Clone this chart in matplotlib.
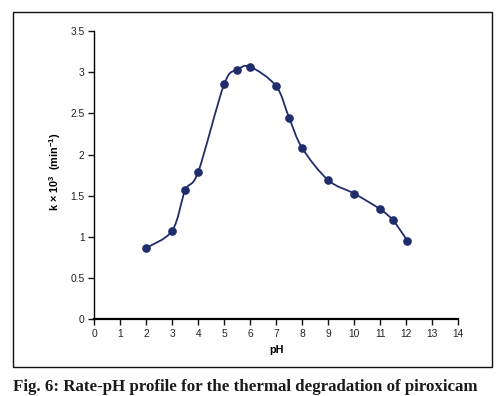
import numpy as np
import matplotlib
matplotlib.use("Agg")
import matplotlib.pyplot as plt
from matplotlib.path import Path
from matplotlib.patches import PathPatch, Rectangle

plt.rcParams["mathtext.fontset"] = "custom"
plt.rcParams["mathtext.rm"] = "Liberation Sans:bold"
plt.rcParams["mathtext.it"] = "Liberation Sans:bold"
plt.rcParams["mathtext.bf"] = "Liberation Sans:bold"
plt.rcParams["mathtext.default"] = "rm"

ph = [2.0, 3.0, 3.5, 4.0, 5.0, 5.5, 6.0, 7.0, 7.5, 8.0, 9.0, 10.0, 11.0, 11.5, 12.05]
k = [0.866, 1.077, 1.567, 1.79, 2.855, 3.025, 3.066, 2.83, 2.446, 2.08, 1.69, 1.527, 1.337, 1.20, 0.956]
xticks = list(range(0, 15))
yticks = [0, 0.5, 1, 1.5, 2, 2.5, 3, 3.5]
ytick_labels = ["0", "0.5", "1", "1.5", "2", "2.5", "3", "3.5"]

color = "#1f2d6b"

fig = plt.figure(figsize=(5.0, 3.96), dpi=100)
ax = fig.add_axes([0.1886, 0.1937, 0.7274, 0.728])

# smooth curve (Catmull-Rom as cubic Bezier segments)
pts = np.column_stack([ph, k])
verts = [tuple(pts[0])]
codes = [Path.MOVETO]
n = len(pts)
for i in range(n - 1):
    p0 = pts[i - 1] if i > 0 else pts[i]
    p1 = pts[i]
    p2 = pts[i + 1]
    p3 = pts[i + 2] if i + 2 < n else pts[i + 1]
    c1 = p1 + (p2 - p0) / 6.0
    c2 = p2 - (p3 - p1) / 6.0
    verts += [tuple(c1), tuple(c2), tuple(p2)]
    codes += [Path.CURVE4] * 3
ax.add_patch(PathPatch(Path(verts, codes), facecolor="none", edgecolor=color, lw=1.3, zorder=2))
ax.plot(ph, k, linestyle="none", marker="o", ms=5.2, color=color, zorder=3)

ax.set_xlim(0, 14)
ax.set_ylim(0, 3.5)
ax.set_xticks(xticks)
ax.set_xticklabels([str(t) for t in xticks])
ax.set_yticks(yticks)
ax.set_yticklabels(ytick_labels)
for s in ["top", "right"]:
    ax.spines[s].set_visible(False)
ax.spines["left"].set_linewidth(1.0)
ax.spines["bottom"].set_linewidth(1.6)
ax.tick_params(axis="both", direction="out", length=4, width=1.0, labelsize=7.4,
               colors="#111111", pad=3)
for lab in ax.get_xticklabels() + ax.get_yticklabels():
    lab.set_family("Liberation Sans")
    lab.set_color("#222222")

ax.set_xlabel("pH", fontsize=7.8, fontweight="bold", family="Liberation Sans", labelpad=4)
fig.text(0.111, 0.565, r"k × 10$^{3}$  (min$^{-1}$)", rotation=90, ha="center", va="center",
         fontsize=7.8, fontweight="bold", family="Liberation Sans")

# outer frame
fig.patches.append(Rectangle((13.3 / 500, 1 - 366.7 / 396), (492 - 13.3) / 500, (366.7 - 11.5) / 396,
                             transform=fig.transFigure, fill=False, edgecolor="#111111", lw=1.0))

fig.text(13 / 500, 1 - 391 / 396, "Fig. 6: Rate-pH profile for the thermal degradation of piroxicam",
         ha="left", va="baseline", fontsize=12.15, fontweight="bold", family="Liberation Serif",
         color="#1a1a1a")

fig.savefig("out.png", dpi=100)
